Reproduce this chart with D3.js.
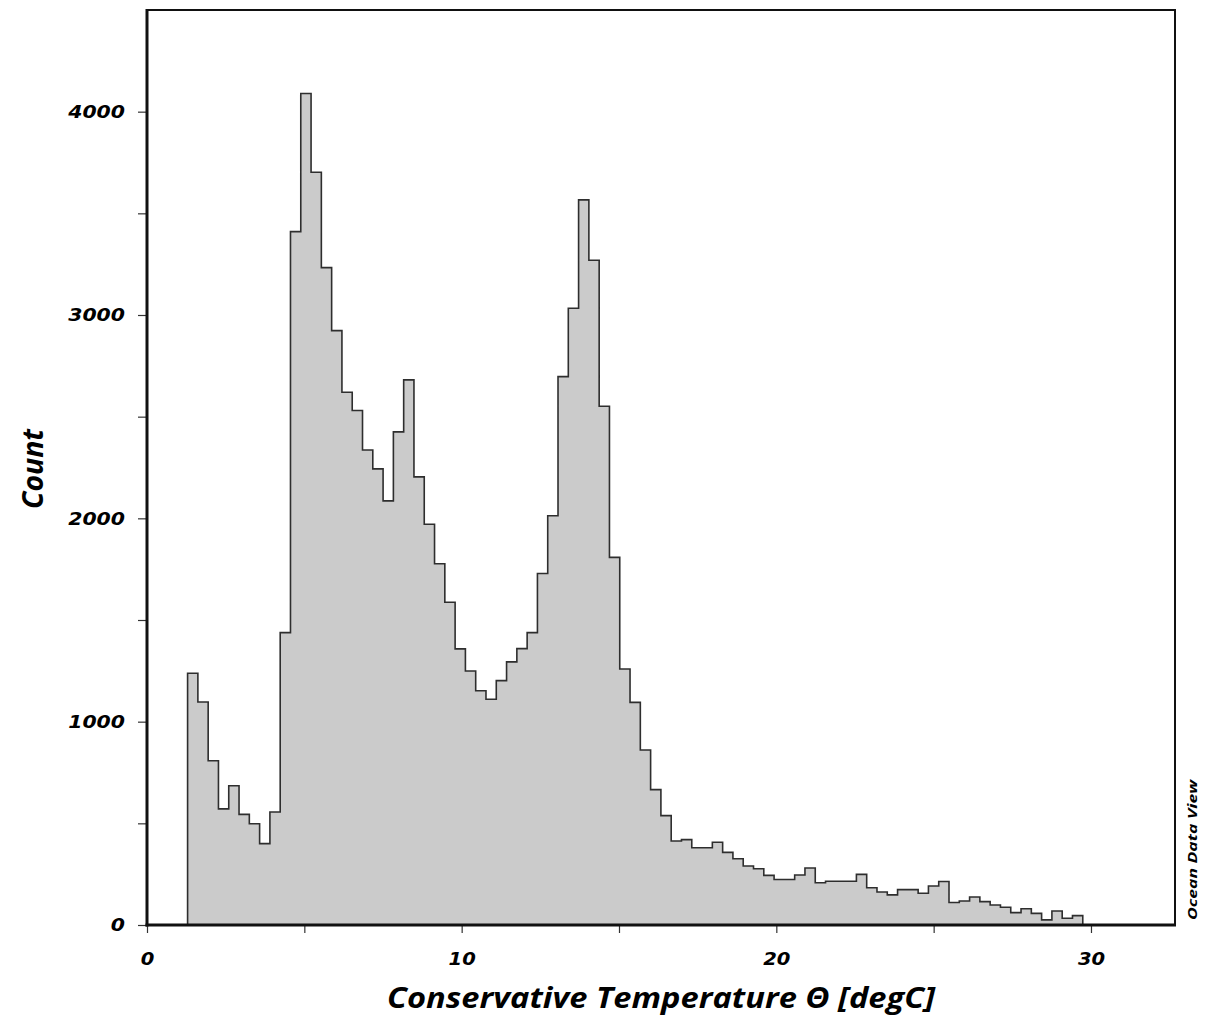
<!DOCTYPE html>
<html>
<head>
<meta charset="utf-8">
<script src="https://cdn.jsdelivr.net/npm/d3@7"></script>
<style>
  html, body { margin: 0; padding: 0; background: #fff; }
  svg { display: block; }
</style>
</head>
<body>
<svg id="chart" width="1212" height="1019"></svg>
<script>
// Histogram of Conservative Temperature: 87 equal-width bins
const binStart = 1.29;   // degC, lower edge of the first bin
const binWidth = 0.327;  // degC
const counts = [
  1238, 1097, 808, 571, 685, 544, 498, 400, 556, 1438,
  3410, 4089, 3702, 3233, 2923, 2620, 2530, 2336, 2243, 2086,
  2425, 2681, 2204, 1971, 1777, 1587, 1358, 1249, 1152, 1110,
  1202, 1294, 1359, 1438, 1729, 2013, 2697, 3033, 3566, 3269,
  2551, 1808, 1259, 1095, 861, 666, 538, 413, 420, 380,
  380, 407, 357, 326, 290, 277, 244, 224, 224, 246,
  280, 208, 215, 215, 215, 249, 183, 162, 148, 174,
  174, 156, 192, 214, 111, 118, 138, 115, 98, 87,
  61, 80, 57, 25, 69, 33, 46
];
const xMajorTicks = [0, 10, 20, 30];
const xMinorTicks = [5, 15, 25];
const yMajorTicks = [0, 1000, 2000, 3000, 4000];
const yMinorTicks = [500, 1500, 2500, 3500];
const xTitle = "Conservative Temperature \u0398 [degC]";
const yTitle = "Count";
const credit = "Ocean Data View";

const svg = d3.select("#chart");
const plotLeft = 147, plotRight = 1175, plotTop = 10, plotBottom = 925;

const x = d3.scaleLinear().domain([0, 32.67]).range([plotLeft, plotRight]);
const y = d3.scaleLinear().domain([0, 4500]).range([plotBottom, plotTop]);

const bins = counts.map((c, i) => ({
  x0: binStart + i * binWidth,
  x1: binStart + (i + 1) * binWidth,
  count: c
}));

// Stepped outline of the histogram, closed down to the baseline
const pts = [[bins[0].x0, 0]];
bins.forEach(b => { pts.push([b.x0, b.count]); pts.push([b.x1, b.count]); });
pts.push([bins[bins.length - 1].x1, 0]);

const line = d3.line().x(d => x(d[0])).y(d => y(d[1]));

svg.append("path")
  .attr("d", line(pts) + "Z")
  .attr("fill", "#cbcbcb")
  .attr("stroke", "none");

svg.append("path")
  .attr("d", line(pts))
  .attr("fill", "none")
  .attr("stroke", "#2e2e2e")
  .attr("stroke-width", 1.6)
  .attr("stroke-linejoin", "miter");

// Frame
svg.append("rect")
  .attr("x", plotLeft).attr("y", plotTop)
  .attr("width", plotRight - plotLeft).attr("height", plotBottom - plotTop)
  .attr("fill", "none")
  .attr("stroke", "#111")
  .attr("stroke-width", 2);

const tickFont = "'DejaVu Sans', Verdana, sans-serif";
// wide, heavy numerals for tick labels
function styleTickText(sel, size, perChar) {
  sel.attr("font-family", tickFont)
    .attr("font-size", size)
    .attr("font-weight", "bold")
    .attr("font-style", "italic")
    .attr("fill", "#000")
    .attr("textLength", function () { return this.textContent.length * perChar; })
    .attr("lengthAdjust", "spacingAndGlyphs");
}

// Y axis
const yAxis = svg.append("g").attr("transform", `translate(${plotLeft},0)`);
yAxis.append("g")
  .call(d3.axisLeft(y).tickValues(yMinorTicks).tickSize(9).tickFormat(""))
  .call(g => g.select(".domain").remove());
yAxis.append("g")
  .call(d3.axisLeft(y).tickValues(yMajorTicks).tickSize(9).tickPadding(13).tickFormat(d3.format("d")))
  .call(g => g.select(".domain").remove());
yAxis.selectAll("line").attr("stroke", "#333").attr("stroke-width", 1.2);
styleTickText(yAxis.selectAll("text"), 18, 14.2);
svg.append("line")
  .attr("x1", plotLeft).attr("x2", plotLeft).attr("y1", plotTop - 1).attr("y2", plotBottom + 1.5)
  .attr("stroke", "#111").attr("stroke-width", 3);

// X axis
const xAxis = svg.append("g").attr("transform", `translate(0,${plotBottom})`);
xAxis.append("g")
  .call(d3.axisBottom(x).tickValues(xMinorTicks).tickSize(8).tickFormat(""))
  .call(g => g.select(".domain").remove());
xAxis.append("g")
  .call(d3.axisBottom(x).tickValues(xMajorTicks).tickSize(8).tickPadding(20).tickFormat(d3.format("d")))
  .call(g => g.select(".domain").remove());
xAxis.selectAll("line").attr("stroke", "#333").attr("stroke-width", 1.2);
styleTickText(xAxis.selectAll("text"), 17.5, 13.6);
svg.append("line")
  .attr("x1", plotLeft - 1.5).attr("x2", plotRight + 1).attr("y1", plotBottom).attr("y2", plotBottom)
  .attr("stroke", "#111").attr("stroke-width", 3);

const titleFont = "'Open Sans', 'Noto Sans', sans-serif";

// Axis titles
svg.append("text")
  .attr("x", 661).attr("y", 1008)
  .attr("text-anchor", "middle")
  .attr("font-family", titleFont)
  .attr("font-size", 29)
  .attr("font-weight", "bold")
  .attr("font-style", "italic")
  .attr("textLength", 548)
  .attr("lengthAdjust", "spacingAndGlyphs")
  .text(xTitle);

svg.append("text")
  .attr("transform", "translate(43,469) rotate(-90)")
  .attr("text-anchor", "middle")
  .attr("font-family", titleFont)
  .attr("font-size", 29)
  .attr("font-weight", "bold")
  .attr("font-style", "italic")
  .attr("textLength", 80)
  .attr("lengthAdjust", "spacingAndGlyphs")
  .text(yTitle);

svg.append("text")
  .attr("transform", "translate(1197,850) rotate(-90)")
  .attr("text-anchor", "middle")
  .attr("font-family", titleFont)
  .attr("font-size", 12)
  .attr("font-weight", "bold")
  .attr("font-style", "italic")
  .attr("textLength", 140)
  .attr("lengthAdjust", "spacingAndGlyphs")
  .text(credit);
</script>
</body>
</html>
